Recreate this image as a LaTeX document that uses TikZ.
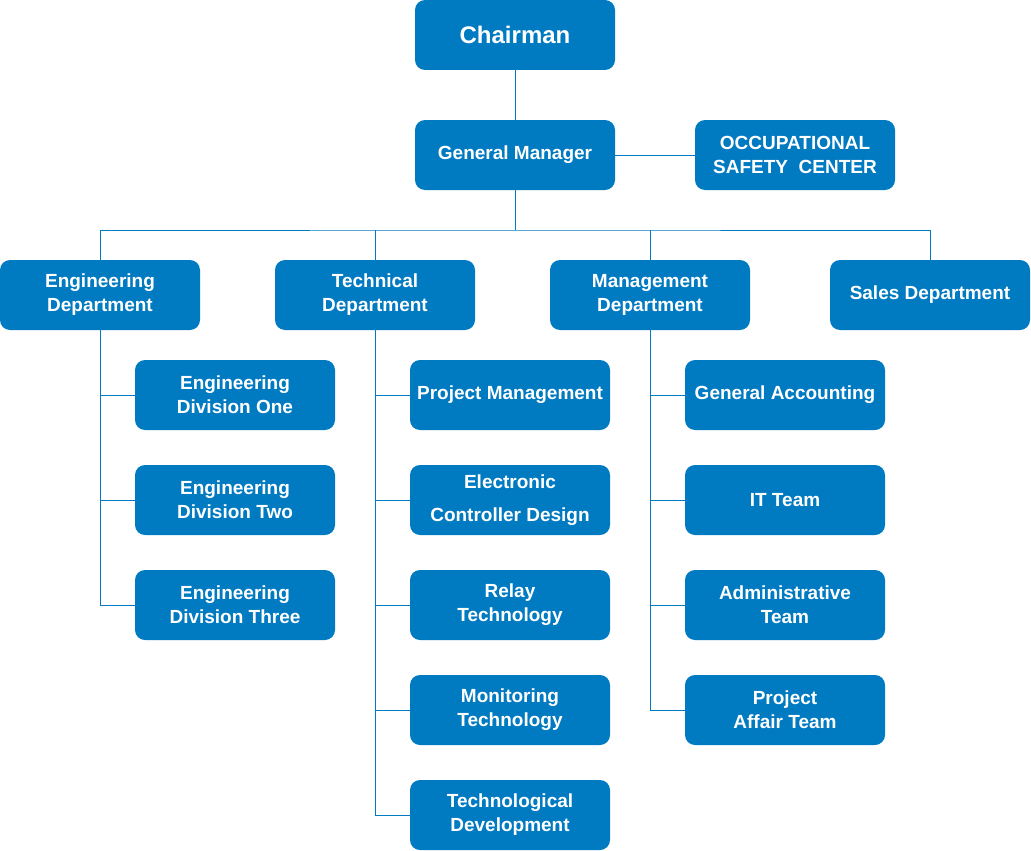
\documentclass[tikz,border=0pt]{standalone}
\usepackage{fontspec}
\setmainfont{Liberation Sans}
\definecolor{orgblue}{RGB}{0,122,193}

\begin{document}
\begin{tikzpicture}[x=1pt,y=-1pt,
  box/.style={fill=orgblue,rounded corners=10pt,minimum width=200pt,minimum height=70pt,
    inner sep=0pt,align=center,text=white,font=\fontsize{19}{24}\selectfont\bfseries},
  link/.style={draw=orgblue,line width=1pt}]
\useasboundingbox (0,0) rectangle (1031,851);
\node [box,font=\fontsize{24}{26}\selectfont\bfseries] (chair) at (515,35) {Chairman};
\node [box] (gm) at (515,155) {General Manager};
\node [box] (osc) at (795,155) {OCCUPATIONAL\\SAFETY\ \ CENTER};
\coordinate (bus) at (515,230);
\node [box] (eng) at (100,295) {Engineering\\Department};
\node [box] (tech) at (375,295) {Technical\\Department};
\node [box] (mgmt) at (650,295) {Management\\Department};
\node [box] (sales) at (930,295) {Sales Department};
\node [box] (ed1) at (235,395) {Engineering\\Division One};
\node [box] (ed2) at (235,500) {Engineering\\Division Two};
\node [box] (ed3) at (235,605) {Engineering\\Division Three};
\node [box] (pm) at (510,395) {Project Management};
\node [box,font=\fontsize{19}{33}\selectfont\bfseries] (ecd) at (510,500) {Electronic\\Controller Design};
\node [box] (relay) at (510,605) {Relay\\Technology};
\node [box] (mon) at (510,710) {Monitoring\\Technology};
\node [box] (dev) at (510,815) {Technological\\Development};
\node [box] (acc) at (785,395) {General Accounting};
\node [box] (it) at (785,500) {IT Team};
\node [box] (adm) at (785,605) {Administrative\\Team};
\node [box] (paff) at (785,710) {Project\\Affair Team};
% top of the tree
\draw [link] (chair.south) -- (gm.north);
\draw [link] (gm.east) -- (osc.west);
\draw [link] (gm.south) -- (bus);
\draw [link] (eng.north) |- (bus) -| (sales.north);
\draw [link] (tech.north) -- (tech.north |- bus);
\draw [link] (mgmt.north) -- (mgmt.north |- bus);
% engineering
\draw [link] (eng.south) |- (ed3.west);
\draw [link] (eng.south |- ed1.west) -- (ed1.west);
\draw [link] (eng.south |- ed2.west) -- (ed2.west);
% technical
\draw [link] (tech.south) |- (dev.west);
\draw [link] (tech.south |- pm.west) -- (pm.west);
\draw [link] (tech.south |- ecd.west) -- (ecd.west);
\draw [link] (tech.south |- relay.west) -- (relay.west);
\draw [link] (tech.south |- mon.west) -- (mon.west);
% management
\draw [link] (mgmt.south) |- (paff.west);
\draw [link] (mgmt.south |- acc.west) -- (acc.west);
\draw [link] (mgmt.south |- it.west) -- (it.west);
\draw [link] (mgmt.south |- adm.west) -- (adm.west);
\end{tikzpicture}
\end{document}
